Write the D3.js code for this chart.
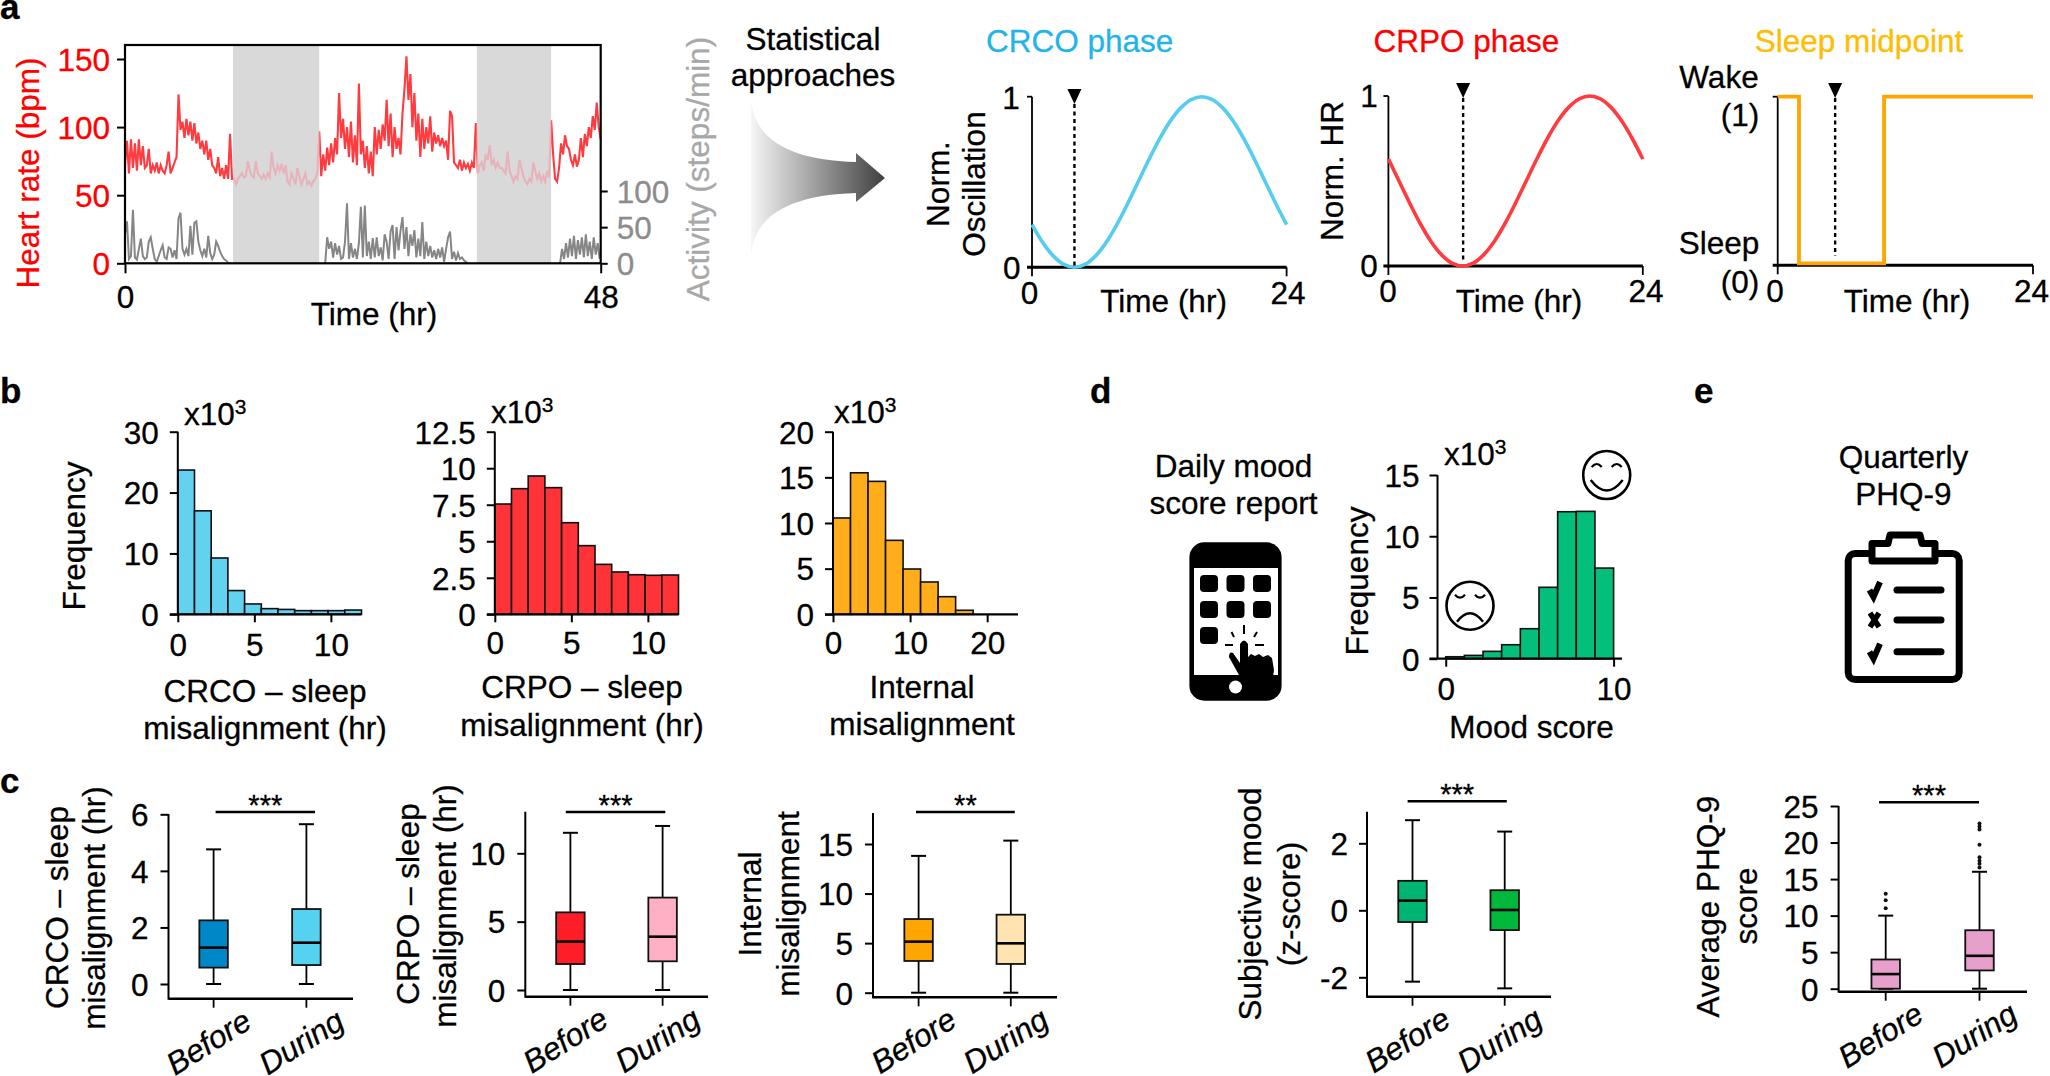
<!DOCTYPE html>
<html><head><meta charset="utf-8">
<style>html,body{margin:0;padding:0;background:#fff}svg{display:block}text{font-family:"Liberation Sans",Arial,sans-serif}</style>
<script src="https://cdn.jsdelivr.net/npm/d3@7/dist/d3.min.js"></script>
</head><body><svg id="c" width="2050" height="1076"></svg>
<script>
// ---------- DATA ----------
const heartRate = [
 72,90,66,91,70,88,68,91,72,86,
 70,72,84,66,72,68,74,66,72,68,
 66,72,82,66,70,74,78,124,
 98,104,92,106,94,104,90,103,
 88,96,84,90,80,90,76,84,72,70,
 66,78,64,70,62,72,62,95,62,
 62,58,62,64,66,63,64,75,68,64,
 63,75,66,64,62,65,62,66,63,82,
 70,66,72,68,73,66,72,60,58,66,
 62,58,70,64,58,62,66,58,60,57,
 60,62,66,
 97,64,80,68,85,72,88,74,92,80,
 125,92,106,84,100,78,104,74,94,72,132,80,
 90,70,86,66,82,64,100,80,98,84,
 102,90,120,86,110,78,100,84,92,80,
 110,128,152,120,139,100,125,90,110,78,
 106,84,100,88,108,82,96,88,94,86,
 92,86,90,76,112,108,74,72,70,76,
 68,74,70,73,68,74,70,103,
 66,72,74,68,80,76,87,72,76,70,
 74,70,70,68,66,82,68,64,60,64,
 62,76,70,64,60,58,62,60,74,68,
 62,66,60,64,60,68,63,
 105,80,62,60,70,88,80,94,86,84,
 76,72,80,71,76,92,78,95,86,100,
 92,108,98,118,100,91];
const hrStep = 0.2;
const activityDay1Start = 0, activityDay2Start = 20.2, activityDay3Start = 43.9, activityStep = 0.2;
const activityDay1 = [40,58,6,10,74,8,5,20,34,10, 6,8,30,36,20,6,2,10,18,25, 8,6,22,20,8,18,6, 62,70,20,12,20,10,52,12, 56,58,30,18,10,20,8,38,14,6, 12,30,24,16,10,6,4,1,0];
const activityDay2 = [0,36,20,30,8,28,12,24,6,
 8,30,83,6,28,8,20,6,28,78,
 8,80,10,30,6,35,8,36,10,22,
 4,40,30,6,44,53,6,50,18,45,
 64,20,50,10,40,24,46,8,34,10,
 57,6,30,10,24,8,18,6,20,8,
 22,2,20,36,44,6,16,4,14,6,
 8,4,2,0];
const activityDay3 = [0,20,6,28,8,34,10,38,6,32,12,36,8,40,10,30,6,36,12,28,6];
const sleepPeriods = [[10.9,19.6],[35.5,43]];
const hrTicks = [0,50,100,150], activityTicks = [0,50,100], timeTicks48 = [0,48];

const phaseHours = d3.range(0,25);
const crcoCurve = [.25,.146,.067,.017,0,.017,.067,.146,.25,.371,.5,.629,.75,.854,.933,.983,1,.983,.933,.854,.75,.629,.5,.371,.25];
const crpoCurve = [.629,.5,.371,.25,.146,.067,.017,0,.017,.067,.146,.25,.371,.5,.629,.75,.854,.933,.983,1,.983,.933,.854,.75,.629];
const sleepStepHours = [0,2,2,10,10,24];
const sleepStepState = [1,1,0,0,1,1];

const histCrco = [23.7,17.0,9.25,3.9,1.7,.93,.8,.6,.6,.6,.7];
const histCrpo = [7.55,8.6,9.47,8.67,6.27,4.7,3.42,2.9,2.71,2.67,2.69];
const histInternal = [10.55,15.5,14.56,8.1,4.96,3.54,1.93,.44];
const histMood = [.16,.27,.6,1.14,2.45,5.83,12.0,12.03,7.4];

const boxGroups = ["Before","During"];
// each box: [low whisker, q1, median, q3, high whisker]
const boxCrco = [[0,.58,1.285,2.25,4.76],[0,.67,1.46,2.65,5.65]];
const boxCrpo = [[0,1.9,3.54,5.68,11.5],[0,2.1,3.9,6.76,12]];
const boxInternal = [[0,3.2,5.15,7.43,13.8],[0,2.9,4.98,7.87,15.34]];
const boxMood = [[-2.13,-.35,.29,.88,2.69],[-2.33,-.59,.01,.6,2.35]];
const boxPhq = [[0,0,2,4,10],[0,2.5,4.5,8,16]];
const phqOutliers = [[11,12.1,13],[16.6,17.1,17.5,18,19.7,21.8,22.2,22.6]];

// ---------- HELPERS ----------
const svg = d3.select("#c");
const FS = 31.5;
function txt(x,y,s,o={}){
  const t = svg.append("text").attr("x",x).attr("y",y).text(s)
    .attr("text-anchor",o.a||"middle").attr("font-size",o.s||FS).attr("fill",o.c||"#000");
  if(o.w) t.attr("font-weight",o.w);
  if(o.i) t.attr("font-style","italic");
  if(o.r!==undefined) t.attr("transform",`rotate(${o.r} ${x} ${y})`);
  return t;
}
function vtxt(x,y,s,o={}){return txt(x,y,s,Object.assign({r:-90},o));}
function x103(x,y){
  const t=txt(x,y,"x10",{a:"start"});
  t.append("tspan").attr("font-size",21).attr("dy",-11).text("3");
}
function line(x1,y1,x2,y2,c="#000",w=2,dash){
  const l=svg.append("line").attr("x1",x1).attr("y1",y1).attr("x2",x2).attr("y2",y2).attr("stroke",c).attr("stroke-width",w);
  if(dash) l.attr("stroke-dasharray",dash);
  return l;
}
function leftAxis(y,ticks,xp,top,bottom,opt={}){
  const g=svg.append("g").attr("transform",`translate(${xp},0)`)
    .call(d3.axisLeft(y).tickValues(ticks).tickFormat(d=>d).tickSize(opt.ts||8).tickPadding(opt.tp||11).tickSizeOuter(0));
  g.select(".domain").remove();
  g.selectAll(".tick line").attr("stroke",opt.c||"#000").attr("stroke-width",opt.lw||2);
  g.selectAll("text").attr("font-size",opt.fs||FS).attr("font-family",'"Liberation Sans"').attr("fill",opt.tc||"#000").attr("dy","0.36em");
  line(xp,top,xp,bottom,opt.c||"#000",opt.dw||2);
  return g;
}
function bottomAxis(x,ticks,yp,opt={}){
  const g=svg.append("g").attr("transform",`translate(0,${yp})`)
    .call(d3.axisBottom(x).tickValues(ticks).tickFormat(d=>d).tickSize(opt.ts||8).tickPadding(opt.tp===undefined?11:opt.tp).tickSizeOuter(0));
  g.select(".domain").remove();
  g.selectAll(".tick line").attr("stroke","#000").attr("stroke-width",opt.lw||2);
  g.selectAll("text").attr("font-size",FS).attr("font-family",'"Liberation Sans"').attr("fill","#000");
  return g;
}

// ---------- PANEL LETTERS ----------
[["a",0,19],["b",0,403],["c",0,793],["d",1090,403],["e",1694,403]].forEach(d=>txt(d[1],d[2],d[0],{a:"start",w:"bold",s:35}));

// ---------- PANEL A: time series ----------
(function(){
  const L=125,R=600.7,T=45,B=263.3;
  const x=d3.scaleLinear([0,48],[L,R]);
  const yH=d3.scaleLinear([0,150],[B,59]);
  const yA=d3.scaleLinear([0,100],[B,191]);
  const hrPts=heartRate.map((v,i)=>[i*hrStep,v]);
  const lnH=d3.line().x(d=>x(d[0])).y(d=>yH(d[1]));
  const lnA=d3.line().x(d=>x(d[0])).y(d=>yA(d[1]));
  const clip=svg.append("clipPath").attr("id","sleepClip");
  svg.append("path").attr("d",lnH(hrPts)).attr("fill","none").attr("stroke","#FF3B40").attr("stroke-width",2.1);
  sleepPeriods.forEach(p=>{
    svg.append("rect").attr("x",x(p[0])).attr("width",x(p[1])-x(p[0])).attr("y",T).attr("height",B-T).attr("fill","#D9D9D9");
    clip.append("rect").attr("x",x(p[0])).attr("width",x(p[1])-x(p[0])).attr("y",T).attr("height",B-T);
  });
  svg.append("path").attr("d",lnH(hrPts)).attr("fill","none").attr("stroke","#E8B2BA").attr("stroke-width",2.1).attr("clip-path","url(#sleepClip)");
  [[activityDay1,activityDay1Start],[activityDay2,activityDay2Start],[activityDay3,activityDay3Start]].forEach(([a,s])=>{
    svg.append("path").attr("d",lnA(a.map((v,i)=>[s+i*activityStep,v]))).attr("fill","none").attr("stroke","#868686").attr("stroke-width",2);
  });
  svg.append("rect").attr("x",L).attr("y",T).attr("width",R-L).attr("height",B-T).attr("fill","none").attr("stroke","#000").attr("stroke-width",2.2);
  const gl=svg.append("g").attr("transform",`translate(${L},0)`).call(d3.axisLeft(yH).tickValues(hrTicks).tickFormat(d=>d).tickSize(8).tickPadding(7));
  gl.select(".domain").remove();gl.selectAll("line").attr("stroke","#000").attr("stroke-width",2);
  gl.selectAll("text").attr("font-size",FS).attr("font-family",'"Liberation Sans"').attr("fill","#FF0000").attr("dy","0.36em");
  const gr=svg.append("g").attr("transform",`translate(${R},0)`).call(d3.axisRight(yA).tickValues(activityTicks).tickFormat(d=>d).tickSize(7).tickPadding(9));
  gr.select(".domain").remove();gr.selectAll("line").attr("stroke","#000").attr("stroke-width",2);
  gr.selectAll("text").attr("font-size",FS).attr("font-family",'"Liberation Sans"').attr("fill","#8C8C8C").attr("dy","0.36em");
  const gx=svg.append("g").attr("transform",`translate(0,${B})`).call(d3.axisBottom(x).tickValues(timeTicks48).tickFormat(d=>d).tickSize(10).tickPadding(12));
  gx.select(".domain").remove();gx.selectAll("line").attr("stroke","#000").attr("stroke-width",2);
  gx.selectAll("text").attr("font-size",FS).attr("font-family",'"Liberation Sans"').attr("fill","#000");
  vtxt(39,173,"Heart rate (bpm)",{c:"#FF0000"});
  vtxt(709,169,"Activity (steps/min)",{c:"#A8A8A8"});
  txt(374,325,"Time (hr)");
})();

// ---------- ARROW ----------
const grad=svg.append("defs").append("linearGradient").attr("id","arrowGrad");
grad.append("stop").attr("offset","0").attr("stop-color","#F6F6F6");
grad.append("stop").attr("offset","1").attr("stop-color","#3F3F3F");
svg.append("path").attr("fill","url(#arrowGrad)")
  .attr("d","M751,100 C755,140 790,160 856,162 L856,153 L885,178 L856,202 L856,193 C790,195 755,215 751,255 Z");
txt(813,50,"Statistical");
txt(813,86,"approaches");

// ---------- PANEL A: phases ----------
function phaseChart(o){
  const x=d3.scaleLinear([0,24],[o.L,o.R]);
  const y=d3.scaleLinear([0,1],[o.B,o.T]);
  const path=d3.line().x(d=>x(d[0])).y(d=>y(d[1]));
  if(o.smooth) path.curve(d3.curveCatmullRom);
  const axB=o.axB||o.B;
  line(o.L,o.T,o.L,axB+2,"#000",1.8);
  line(o.L-5,o.T,o.L,o.T,"#000",1.8);
  line(o.L-5,axB,o.R,axB,"#000",3);
  line(o.R,axB,o.R,axB+9,"#000",1.8);
  line(o.L,axB,o.L,axB+9,"#000",1.8);
  svg.append("path").attr("d",path(o.hours.map((h,i)=>[h,o.vals[i]]))).attr("fill","none").attr("stroke",o.color).attr("stroke-width",o.sw||3.6);
  const mx=x(o.mark);
  line(mx,o.triB,mx,o.dashEnd,"#000",2.4,"4 3.5");
  svg.append("path").attr("d",`M${mx-7},${o.triB-15} L${mx+7},${o.triB-15} L${mx},${o.triB} Z`).attr("fill","#000");
}
phaseChart({L:1032,R:1286.6,T:96.7,B:267.3,hours:phaseHours,vals:crcoCurve,color:"#55CDEE",smooth:true,mark:4,triB:104,dashEnd:266});
phaseChart({L:1388.4,R:1642.8,T:96,B:266,hours:phaseHours,vals:crpoCurve,color:"#FF3B40",smooth:true,mark:7.05,triB:98,dashEnd:263});
phaseChart({L:1777.7,R:2033,T:96.7,B:263.3,axB:265.3,hours:sleepStepHours,vals:sleepStepState,color:"#FFA500",smooth:false,mark:5.4,triB:98,dashEnd:256,sw:3.8});
txt(1079.6,52,"CRCO phase",{c:"#1FB4EA"});
txt(1466.4,52,"CRPO phase",{c:"#FF0000"});
txt(1859,52,"Sleep midpoint",{c:"#FFBC00"});
txt(1011,109,"1");txt(1003,279,"0",{a:"start"});
txt(1029.6,304,"0");txt(1288,304,"24");txt(1163.6,312,"Time (hr)");
vtxt(949,184,"Norm.");vtxt(985,184,"Oscillation");
txt(1369,107,"1");txt(1369,277,"0");
txt(1388,302,"0");txt(1646,302,"24");txt(1519,312,"Time (hr)");
vtxt(1343,171,"Norm. HR");
txt(1719,88,"Wake");txt(1740,126,"(1)");txt(1719,254,"Sleep");txt(1740,293,"(0)");
txt(1775,302,"0");txt(2049,302,"24",{a:"end"});txt(1907,312,"Time (hr)");

// ---------- HISTOGRAMS ----------
function hist(o){
  const x=d3.scaleLinear(o.xDom,o.xRange);
  const y=d3.scaleLinear([0,o.yMax],[o.B,o.T]);
  svg.append("g").selectAll("rect").data(o.vals).join("rect")
    .attr("x",(d,i)=>x(o.binStart+i*o.binW)).attr("width",(d,i)=>x(o.binStart+(i+1)*o.binW)-x(o.binStart+i*o.binW))
    .attr("y",d=>y(d)).attr("height",d=>o.B-y(d)).attr("fill",o.color).attr("stroke","#111").attr("stroke-width",1.6);
  leftAxis(y,o.yTicks,o.axX,o.T,o.B,{tp:o.tp||11});
  bottomAxis(x,o.xTicks,o.B,{tp:o.xtp});
  line(o.axX-8,o.B,o.xEnd,o.B,"#000",2.2);
}
hist({vals:histCrco,binStart:0,binW:12/11,xDom:[0,12],xRange:[177.8,361.5],xEnd:361.5,axX:177.8,T:431.7,B:614.3,yMax:30,yTicks:[0,10,20,30],xTicks:[0,5,10],color:"#63D2F0"});
hist({vals:histCrpo,binStart:0,binW:12/11,xDom:[0,12],xRange:[494.8,678.5],xEnd:678.5,axX:494.8,T:431.7,B:614.3,yMax:12.5,yTicks:[0,2.5,5,7.5,10,12.5],xTicks:[0,5,10],color:"#FF3338",xtp:9});
hist({vals:histInternal,binStart:0,binW:25/11,xDom:[0,24],xRange:[833,1018],xEnd:1018,axX:833,T:431.7,B:614.3,yMax:20,yTicks:[0,5,10,15,20],xTicks:[0,10,20],color:"#FFAD1A",xtp:9});
hist({vals:histMood,binStart:0,binW:10/9,xDom:[-0.49,10.5],xRange:[1437.5,1622],xEnd:1622,axX:1437.5,T:475,B:658.7,yMax:15,yTicks:[0,5,10,15],xTicks:[0,10],color:"#04BF7C",tp:10});
x103(184,425);x103(491,423);x103(834,423);x103(1444,465);
vtxt(85,536,"Frequency");vtxt(1367.5,581,"Frequency");
txt(265,702,"CRCO – sleep");txt(265,739,"misalignment (hr)");
txt(582,698,"CRPO – sleep");txt(582,736,"misalignment (hr)");
txt(922,698,"Internal");txt(922,735,"misalignment");
txt(1531.6,738,"Mood score");

// ---------- BOX PLOTS ----------
function boxes(o){
  const x=d3.scalePoint().domain(boxGroups).range(o.centers);
  const y=d3.scaleLinear([o.v0,o.v1],[o.p0,o.p1]);
  leftAxis(y,o.ticks,o.L,o.T,o.B+1,{tp:o.tp||12});
  line(o.L,o.B,o.R,o.B,"#000",2.4);
  const bw=28.5,cap=7.5;
  boxGroups.forEach((g,i)=>{
    const c=x(g),[lo,q1,m,q3,hi]=o.vals[i];
    line(c,o.B,c,o.B+9,"#000",1.8);
    line(c,y(hi),c,y(lo),"#000",1.8);
    line(c-cap,y(hi),c+cap,y(hi),"#000",2);
    line(c-cap,y(lo),c+cap,y(lo),"#000",2);
    svg.append("rect").attr("x",c-bw/2).attr("width",bw).attr("y",y(q3)).attr("height",y(q1)-y(q3)).attr("fill",o.colors[i]).attr("stroke","#111").attr("stroke-width",1.8);
    line(c-bw/2,y(m),c+bw/2,y(m),"#000",2.6);
    txt(c+40,o.B+28,g,{a:"end",i:true,r:-32,s:31.5});
    if(o.outliers) svg.append("g").selectAll("circle").data(o.outliers[i]).join("circle").attr("cx",c).attr("cy",d=>y(d)).attr("r",2).attr("fill","#111");
  });
  line(o.sig[0],o.sig[2],o.sig[1],o.sig[2],"#000",2.6);
  txt((o.sig[0]+o.sig[1])/2,o.sig[2]+3,o.stars,{s:29});
}
boxes({vals:boxCrco,centers:[213.6,306.4],v0:0,v1:6,p0:984,p1:814.3,ticks:[0,2,4,6],L:168.5,R:353,T:814,B:998.7,colors:["#0087C8","#55D2F0"],sig:[215.6,315,812],stars:"***"});
boxes({vals:boxCrpo,centers:[570.4,662.6],v0:0,v1:10,p0:990,p1:853.3,ticks:[0,5,10],L:525.3,R:708,T:811.7,B:996.7,colors:["#FF1E27","#FFB0C5"],sig:[565.8,665.3,812],stars:"***"});
boxes({vals:boxInternal,centers:[918.6,1010.8],v0:0,v1:15,p0:992.7,p1:844,ticks:[0,5,10,15],L:873,R:1057,T:813,B:997.3,colors:["#FFA500","#FFE3B0"],sig:[916,1014.8,812],stars:"**"});
boxes({vals:boxMood,centers:[1412.5,1504.7],v0:0,v1:2,p0:910.3,p1:843.3,ticks:[-2,0,2],L:1367,R:1551,T:811.7,B:996.7,colors:["#00B574","#00B83B"],sig:[1407.6,1506.8,801.3],stars:"***",tp:11});
boxes({vals:boxPhq,centers:[1885.7,1979.5],v0:0,v1:25,p0:988.7,p1:806,ticks:[0,5,10,15,20,25],L:1838.6,R:2027,T:806,B:991.7,colors:["#E79FCB","#E79FCB"],sig:[1879,1979,802.3],stars:"***",outliers:phqOutliers,tp:12});
vtxt(68,907.5,"CRCO – sleep");vtxt(105,908,"misalignment (hr)");
vtxt(419,904,"CRPO – sleep");vtxt(456,906,"misalignment (hr)");
vtxt(761,904,"Internal");vtxt(799,904,"misalignment");
vtxt(1260.7,904,"Subjective mood");vtxt(1300,904,"(z-score)");
vtxt(1719,906.7,"Average PHQ-9");vtxt(1757,906,"score");

// ---------- ICONS ----------
txt(1233.6,477,"Daily mood");txt(1233.6,514,"score report");
txt(1903.4,468,"Quarterly");txt(1903.4,505,"PHQ-9");
// phone
svg.append("rect").attr("x",1189.4).attr("y",542.3).attr("width",92.2).attr("height",158.4).attr("rx",15).attr("fill","#000");
svg.append("rect").attr("x",1194).attr("y",568).attr("width",84).attr("height",107).attr("fill","#fff");
[1209,1235.5,1262].forEach((cx,c)=>[583.5,609.5,635.5].forEach((cy,r)=>{
  if(r===2&&c>0) return;
  svg.append("rect").attr("x",cx-9).attr("y",cy-8.5).attr("width",18).attr("height",17).attr("rx",4).attr("fill","#000");
}));
svg.append("circle").attr("cx",1235.5).attr("cy",687).attr("r",6.5).attr("fill","#fff");
svg.append("path").attr("fill","#000")
  .attr("d","M1240,644 Q1244,637 1248,644 L1248,657 L1251,654 L1255,656 L1259,654 L1263,657 L1268,655 L1272,658 L1274,670 L1272,684 L1244,684 L1229,657 Q1229,651 1233,653 L1240,663 Z");
[[1244,625,1244,634],[1231.5,632,1234,637],[1257,632,1254,637],[1225,645,1233,645],[1255,645,1264,645]].forEach(d=>line(d[0],d[1],d[2],d[3],"#000",2));
// faces
function face(cx,cy,happy){
  svg.append("ellipse").attr("cx",cx).attr("cy",cy).attr("rx",23.5).attr("ry",24).attr("fill","#fff").attr("stroke","#000").attr("stroke-width",2.6);
  const s=happy?1:-1, e=cy-(happy?10:9);
  [-10,10].forEach(dx=>svg.append("path").attr("d",`M${cx+dx-5},${e+s*2} Q${cx+dx},${e-s*4} ${cx+dx+5},${e+s*2}`).attr("fill","none").attr("stroke","#000").attr("stroke-width",2.2));
  if(happy) svg.append("path").attr("d",`M${cx-16},${cy+5} Q${cx},${cy+26} ${cx+16},${cy+5}`).attr("fill","none").attr("stroke","#000").attr("stroke-width",2.4);
  else svg.append("path").attr("d",`M${cx-13},${cy+16} Q${cx},${cy-1} ${cx+13},${cy+16}`).attr("fill","none").attr("stroke","#000").attr("stroke-width",2.4);
}
face(1606.7,475,true);face(1470,605.7,false);
// clipboard
svg.append("rect").attr("x",1848.2).attr("y",553.5).attr("width",111).attr("height",126).attr("rx",7).attr("fill","#fff").attr("stroke","#000").attr("stroke-width",7);
svg.append("path").attr("d","M1872,543.5 L1888,543.5 L1890,535 L1920,535 L1922,543.5 L1935,543.5 L1935,561 L1872,561 Z").attr("fill","#fff").attr("stroke","#000").attr("stroke-width",7).attr("stroke-linejoin","round");
[590,620,651.7].forEach(y=>line(1897,y,1941,y,"#000",7).attr("stroke-linecap","round"));
[590,651.7].forEach(y=>svg.append("path").attr("d",`M1869.5,${y} L1873.5,${y+7} L1880,${y-8}`).attr("fill","none").attr("stroke","#000").attr("stroke-width",6));
svg.append("path").attr("d","M1870,613 L1879,627 M1879,613 L1870,627").attr("fill","none").attr("stroke","#000").attr("stroke-width",5.5);
// slightly heavier text weight, as in the reference
svg.selectAll("text").each(function(){const t=d3.select(this);t.attr("stroke",t.attr("fill")).attr("stroke-width",0.3);});
</script></body></html>
